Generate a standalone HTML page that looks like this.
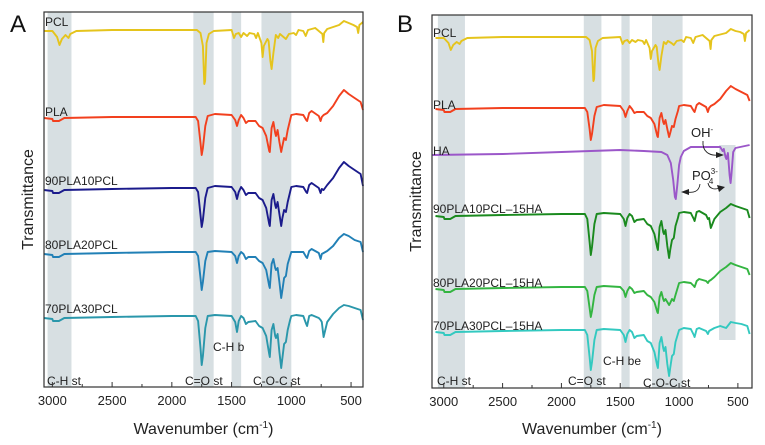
<!DOCTYPE html>
<html><head><meta charset="utf-8"><style>
html,body{margin:0;padding:0;background:#fff;}
svg{display:block;font-family:"Liberation Sans",Arial,sans-serif;}
</style></head><body>
<svg id="chart" width="765" height="445" viewBox="0 0 765 445"></svg>
<script>
// ---------- DATA ----------
const tickLabels = [3000, 2500, 2000, 1500, 1000, 500];
const minorTicks = [2750, 2250, 1750, 1250, 750];
const wnPLA = [3070,3000,2995,2945,2900,2500,2000,1800,1780,1760,1750,1740,1720,1700,1640,1500,1470,1455,1440,1420,1400,1380,1360,1300,1270,1240,1210,1185,1180,1165,1150,1135,1128,1115,1100,1085,1075,1060,1045,1030,1010,1000,960,900,875,868,850,830,770,755,745,730,700,650,600,560,520,470,420,400];
const wnPCL = [3070,3000,2960,2940,2920,2890,2865,2850,2800,2500,2000,1790,1760,1740,1728,1722,1710,1690,1650,1500,1480,1465,1440,1420,1400,1370,1350,1310,1295,1280,1250,1240,1230,1200,1190,1175,1165,1150,1130,1110,1095,1065,1045,1020,980,960,940,900,880,860,800,780,740,732,725,700,600,560,520,480,450,440,430,400];
const wnHA = [3100,2500,2000,1500,1300,1150,1100,1070,1050,1035,1028,1015,1000,985,960,900,700,650,630,620,605,598,585,570,562,555,540,520,480,400];

const pclA = [0,0,-6,-14,-8,-4,-7,-3,0,1, 1,1,-2,-15,-53,-50,-12,-3,0,1, -7,-3,-2,-6,-2,-5,-2,-3,-7,-2, -12,-26,-15,-8,-10,-30,-38,-22,-4,-7, -3,-6,-8,-3,-2,-4,1,0,-5,1, 3,1,-3,-11,-2,2,6,10,8,6, 4,-2,6,9];
const plaA = [0,-1,-3,-3,0,1,1,1,-3,-25, -37,-30,-8,2,4,3,-2,-8,-2,3, 0,-5,-3,-3,-8,-10,-18,-33,-34,-10, -4,-15,-18,-12,-24,-34,-28,-20,-22,-12, -2,3,4,3,-2,-3,5,7,2,-3, 1,3,5,12,22,28,24,20,16,8];
const pla90A = [0,-1,-3,-3,0,1,2,2,-2,-25, -37,-30,-8,2,4,3,-2,-9,-2,3, 0,-5,-3,-3,-8,-10,-18,-34,-36,-10, -4,-15,-18,-12,-24,-36,-28,-20,-22,-12, -2,3,4,3,-2,-3,5,7,2,-3, 1,0,5,12,22,28,24,20,16,4];
const pla80A = [0,-1,-3,-3,0,1,2,2,-2,-24, -36,-28,-7,2,3,2,-2,-9,-2,2, 0,-5,-3,-3,-7,-9,-16,-32,-34,-10, -5,-14,-16,-14,-28,-44,-36,-24,-22,-10, -2,2,2,2,-3,-4,3,5,1,-5, 0,1,3,8,16,20,18,14,12,2];
const pla70A = [0,-1,-3,-3,0,1,2,2,-3,-30, -47,-38,-10,2,3,2,-4,-14,-3,2, 0,-6,-4,-3,-8,-10,-18,-36,-39,-12, -6,-18,-20,-16,-34,-50,-40,-26,-24,-12, -2,2,3,2,-6,-8,2,3,0,-2, -4,-19,-4,4,10,13,12,10,8,-2];

const pclB = [0,0,-5,-12,-7,-4,-6,-3,0,1, 1,1,-2,-13,-43,-41,-10,-3,0,1, -6,-3,-2,-5,-2,-4,-2,-3,-6,-2, -10,-21,-13,-7,-9,-26,-32,-18,-4,-6, -3,-5,-7,-3,-2,-4,1,0,-5,1, 3,1,-3,-11,-2,2,5,9,7,6, 4,-3,5,8];
const plaB = [0,-1,-3,-3,0,1,1,1,-3,-20, -31,-25,-7,2,4,3,-2,-8,-2,3, 0,-4,-3,-3,-7,-9,-15,-27,-28,-9, -4,-13,-15,-11,-20,-28,-24,-17,-18,-10, -2,3,4,3,-2,-3,4,6,2,-3, 1,3,5,10,18,23,20,17,14,8];
const haB = [0,1,3,5,4,3,0,-8,-25,-42,-44,-30,-10,-2,4,8,8,8,4,6,-2,-4,2,-20,-28,-20,3,7,8,10];
const ha90B = [0,-1,-3,-3,0,1,2,2,-3,-26, -39,-31,-8,2,3,2,-3,-10,-2,2, 0,-6,-4,-3,-8,-10,-18,-32,-34,-11, -5,-16,-18,-14,-30,-42,-34,-24,-22,-10, -2,3,4,3,-3,-5,4,5,1,-3, -2,-12,-3,4,8,12,10,8,6,-2];
const ha80B = [0,-1,-3,-3,0,1,2,2,-2,-19, -28,-22,-6,2,3,2,-2,-8,-2,2, 0,-4,-3,-2,-6,-8,-13,-23,-24,-8, -3,-10,-12,-10,-13,-16,-14,-10,-12,-6, 2,6,7,6,3,2,8,10,8,6, 8,9,12,18,22,26,24,22,20,14];
const ha70B = [0,-1,-3,-3,0,1,2,2,-3,-25, -38,-30,-8,2,3,2,-3,-10,-2,2, 0,-6,-4,-3,-9,-11,-20,-34,-36,-11, -5,-16,-19,-15,-32,-44,-36,-24,-22,-10, -2,2,4,3,-3,-5,3,4,1,-2, 1,2,4,6,4,10,9,8,6,-2];

// ---------- LAYOUT ----------
const NS = "http://www.w3.org/2000/svg";
const svg = document.getElementById("chart");
function el(tag, attrs, parent){ const e=document.createElementNS(NS,tag); for(const k in attrs) e.setAttribute(k,attrs[k]); (parent||svg).appendChild(e); return e; }

const panels = [
 {id:"a", letter:"A", lx:10, x0:44, x1:363, y0:12, y1:387, wmax:3070, wmin:400,
  bands:[[3040,2840],[1820,1650],[1500,1420],[1250,1000]],
  series:[
   {name:"PCL", wn:wnPCL, v:pclA, base:31, color:"#e5c41c", ly:26},
   {name:"PLA", wn:wnPLA, v:plaA, base:118, color:"#f2401e", ly:116},
   {name:"90PLA10PCL", wn:wnPLA, v:pla90A, base:190, color:"#1b1b8c", ly:185},
   {name:"80PLA20PCL", wn:wnPLA, v:pla80A, base:254, color:"#2180b6", ly:249},
   {name:"70PLA30PCL", wn:wnPLA, v:pla70A, base:318, color:"#2a97ab", ly:313}],
  notes:[["C-H st",47,385],["C=O st",185,385],["C-H b",213,351],["C-O-C st",253,385]]},
 {id:"b", letter:"B", lx:397, x0:432, x1:752, y0:15, y1:388, wmax:3100, wmin:380,
  bands:[[3050,2820],[1810,1660],[1490,1420],[1230,970]],
  series:[
   {name:"PCL", wn:wnPCL, v:pclB, base:38, color:"#e5c41c", ly:37},
   {name:"PLA", wn:wnPLA, v:plaB, base:109, color:"#f2401e", ly:109},
   {name:"HA", wn:wnHA, v:haB, base:155, color:"#9b57c9", ly:155},
   {name:"90PLA10PCL\u201315HA", wn:wnPLA, v:ha90B, base:216, color:"#1a8a1e", ly:213},
   {name:"80PLA20PCL\u201315HA", wn:wnPLA, v:ha80B, base:289, color:"#33b541", ly:287},
   {name:"70PLA30PCL\u201315HA", wn:wnPLA, v:ha70B, base:332, color:"#33c9c0", ly:330}],
  notes:[["C-H st",437,385],["C=O st",568,385],["C-H be",603,365],["C-O-C st",643,387]]}
];

panels.forEach(p=>{
  const g = el("g",{});
  
  
  const x = w => p.x0 + (p.wmax - w) * (p.x1 - p.x0) / (p.wmax - p.wmin);
  p.bands.forEach((b,i)=>{
    const r = el("rect",{x:x(b[0]), y:p.y0, width:x(b[1])-x(b[0]), height:p.y1-p.y0, fill:"#d7dfe2"}, g);
    
    
  });
  if(p.id==="b"){
    const r = el("rect",{x:x(660), y:145, width:x(520)-x(660), height:195, fill:"#d7dfe2"}, g);
    
    
  }
  p.series.forEach(s=>{
    const pts = s.wn.map((w,i)=> x(w).toFixed(1)+","+(s.base - s.v[i]).toFixed(1)).join(" ");
    const pl = el("polyline",{points:pts, fill:"none", stroke:s.color, "stroke-width":1.9, "stroke-linejoin":"round"}, g);
    
    
    const t = el("text",{x:p.x0+1, y:s.ly, "font-size":12, fill:"#222"}, g);
    t.textContent = s.name;
    
    
  });
  p.notes.forEach(n=>{
    const t = el("text",{x:n[1], y:n[2], "font-size":12, fill:"#222"}, g);
    t.textContent = n[0];
    
    
  });
  const frame = el("rect",{x:p.x0, y:p.y0, width:p.x1-p.x0, height:p.y1-p.y0, fill:"none", stroke:"#333", "stroke-width":1.2}, g);
  
  
  tickLabels.forEach(v=>{
    el("line",{x1:x(v),x2:x(v),y1:p.y1,y2:p.y1-5,stroke:"#333","stroke-width":1}, g);
    const t = el("text",{x:x(v), y:p.y1+18, "font-size":13, "text-anchor":"middle", fill:"#222"}, g);
    t.textContent = v;
    
    
  });
  minorTicks.forEach(v=>{ el("line",{x1:x(v),x2:x(v),y1:p.y1,y2:p.y1-3,stroke:"#333","stroke-width":1}, g); });
  const xt = el("text",{x:(p.x0+p.x1)/2, y:434, "font-size":16, "text-anchor":"middle", fill:"#222"}, g);
  xt.innerHTML = 'Wavenumber (cm<tspan dy="-6" font-size="10">-1</tspan><tspan dy="6">)</tspan>';
  
  
  const yt = el("text",{x:0, y:0, "font-size":16, "text-anchor":"middle", fill:"#222", transform:"translate("+(p.x0-11)+","+((p.y0+p.y1)/2)+") rotate(-90)"}, g);
  yt.textContent = "Transmittance";
  
  
  const L = el("text",{x:p.lx, y:32, "font-size":24, fill:"#111"}, g);
  L.textContent = p.letter;
  
  
});

// Panel B annotations (OH-, PO4 3-)
const ann = el("g",{});


const oh = el("text",{x:691, y:137, "font-size":13, fill:"#222"}, ann);
oh.innerHTML = 'OH<tspan dy="-5" font-size="8">-</tspan>';
const po = el("text",{x:692, y:180, "font-size":13, fill:"#222"}, ann);
po.innerHTML = 'PO<tspan dy="-6" font-size="8">3-</tspan><tspan dx="-9" dy="10" font-size="8">4</tspan>';
el("path",{d:"M703,141 C702,152 710,156 718,155", fill:"none", stroke:"#222","stroke-width":0.9}, ann);
el("path",{d:"M716,152 L724,155 L716,158 Z", fill:"#222"}, ann);
el("path",{d:"M700,184 C699,192 693,193 687,192", fill:"none", stroke:"#222","stroke-width":0.9}, ann);
el("path",{d:"M689,189 L681,192 L689,195 Z", fill:"#222"}, ann);
el("path",{d:"M708,183 C709,189 715,190 719,188", fill:"none", stroke:"#222","stroke-width":0.9}, ann);
el("path",{d:"M717,185 L725,187 L719,192 Z", fill:"#222"}, ann);
</script>
</body></html>
